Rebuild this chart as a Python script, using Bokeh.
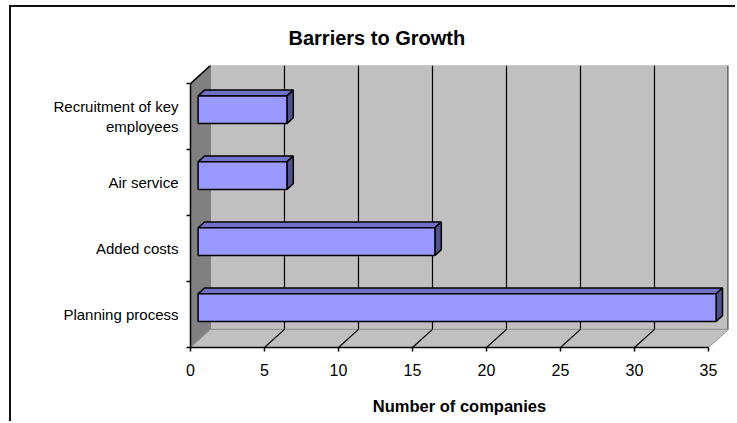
from bokeh.plotting import figure
from bokeh.models import FixedTicker, Range1d
from bokeh.embed import file_html
from bokeh.resources import INLINE

# ---- data ----
categories = ["Planning process", "Added costs", "Air service", "Recruitment of key\nemployees"]
counts = [35, 16, 6, 6]
x_ticks = [0, 5, 10, 15, 20, 25, 30, 35]
title_text = "Barriers to Growth"
x_title = "Number of companies"

# ---- 3D geometry (in data units) ----
X_MAX = x_ticks[-1]
N = len(categories)
DX = 1.35      # depth offset along x
DY = 0.275     # depth offset along y
BAR_H = 0.42
F0, F1 = 0.38, 0.70   # bar depth span (fraction of wall depth)

FONT = "Liberation Sans"

p = figure(width=726, height=416, output_backend="svg", toolbar_location=None,
           x_range=Range1d(0, X_MAX + DX), y_range=Range1d(0, N + DY),
           min_border_left=179, min_border_right=9, min_border_top=57,
           min_border_bottom=76, background_fill_color="white",
           border_fill_color="white")
p.styles = {"border-left": "2px solid #111111", "border-top": "2px solid #111111",
            "margin-left": "9px", "margin-top": "5px"}
p.outline_line_color = None
p.grid.visible = False

# title
p.title.text = title_text
p.title.align = "left"
p.title.offset = 98
p.title.standoff = 34
p.title.text_font = FONT
p.title.text_font_size = "20px"
p.title.text_font_style = "bold"
p.title.text_color = "black"

# back wall
p.patch([DX, X_MAX + DX, X_MAX + DX, DX], [DY, DY, N + DY, N + DY],
        fill_color="#C0C0C0", line_color="#A8A8A8", line_width=1)
p.segment(x0=[X_MAX + DX], y0=[DY], x1=[X_MAX + DX], y1=[N + DY],
          line_color="#707070", line_width=3)
# left wall
p.patch([0, DX, DX, 0], [0, DY, N + DY, N], fill_color="#808080",
        line_color="#808080", line_width=1)
p.segment(x0=[0], y0=[N], x1=[DX], y1=[N + DY], line_color="black", line_width=1.5)
# floor
p.patch([0, X_MAX, X_MAX + DX, DX], [0, 0, DY, DY], fill_color="#C0C0C0",
        line_color="#909090", line_width=1)

# gridlines (back wall + floor)
inner = [t for t in x_ticks if 0 < t < X_MAX]
p.segment(x0=[t + DX for t in inner], y0=[DY] * len(inner),
          x1=[t + DX for t in inner], y1=[N + DY] * len(inner),
          line_color="black", line_width=1.2)
p.segment(x0=inner, y0=[0] * len(inner), x1=[t + DX for t in inner],
          y1=[DY] * len(inner), line_color="black", line_width=1.2)

# bars
front_xs, front_ys, top_xs, top_ys, side_xs, side_ys = [], [], [], [], [], []
for i, v in enumerate(counts):
    c = i + 0.5
    b0, t0 = c - BAR_H / 2 + F0 * DY, c + BAR_H / 2 + F0 * DY
    b1, t1 = c - BAR_H / 2 + F1 * DY, c + BAR_H / 2 + F1 * DY
    x0a, x1a = F0 * DX, v + F0 * DX
    x0b, x1b = F1 * DX, v + F1 * DX
    front_xs.append([x0a, x1a, x1a, x0a]); front_ys.append([b0, b0, t0, t0])
    top_xs.append([x0a, x1a, x1b, x0b]); top_ys.append([t0, t0, t1, t1])
    side_xs.append([x1a, x1b, x1b, x1a]); side_ys.append([b0, b1, t1, t0])

p.patches(top_xs, top_ys, fill_color="#7171C6", line_color="black", line_width=1.5)
p.patches(side_xs, side_ys, fill_color="#50508C", line_color="black", line_width=1.5)
p.patches(front_xs, front_ys, fill_color="#9999FF", line_color="black", line_width=1.5)

# x axis
xa = p.xaxis[0]
xa.ticker = FixedTicker(ticks=x_ticks)
xa.bounds = (0, X_MAX)
xa.axis_line_color = "black"
xa.axis_line_width = 1.5
xa.major_tick_line_color = "black"
xa.major_tick_line_width = 1.5
xa.major_tick_out = 4
xa.major_tick_in = 0
xa.minor_tick_line_color = None
xa.major_label_text_font = FONT
xa.major_label_text_font_size = "16px"
xa.major_label_text_color = "black"
xa.major_label_standoff = 12
xa.axis_label = x_title
xa.axis_label_text_font = FONT
xa.axis_label_text_font_size = "16.5px"
xa.axis_label_text_font_style = "bold"
xa.axis_label_text_color = "black"
xa.axis_label_standoff = 18

# y axis
ya = p.yaxis[0]
ya.ticker = FixedTicker(ticks=[i + 0.5 for i in range(N)], minor_ticks=list(range(N + 1)))
ya.major_label_overrides = {i + 0.5: c for i, c in enumerate(categories)}
ya.bounds = (0, N)
ya.axis_line_color = "black"
ya.axis_line_width = 1.5
ya.major_tick_out = 0
ya.major_tick_in = 0
ya.major_tick_line_color = None
ya.minor_tick_line_color = "black"
ya.minor_tick_line_width = 1.5
ya.minor_tick_out = 4
ya.minor_tick_in = 0
ya.major_label_text_font = FONT
ya.major_label_text_font_size = "15px"
ya.major_label_text_color = "black"
ya.major_label_standoff = 8

open("out.html", "w").write(file_html(p, INLINE))
